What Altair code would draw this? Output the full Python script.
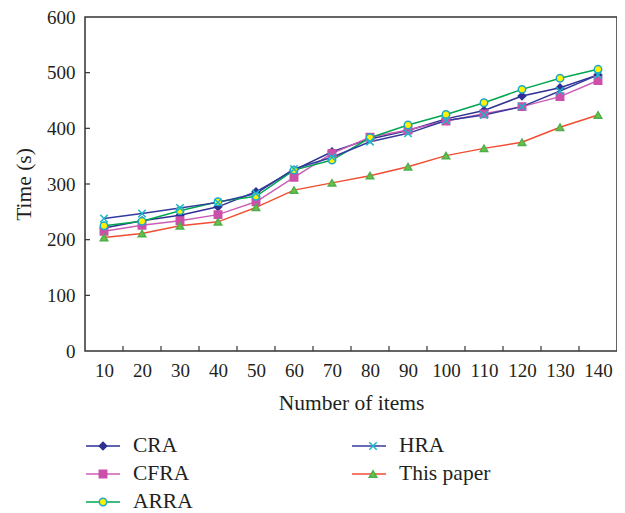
import altair as alt
import pandas as pd

# ---- data ----
items = [10, 20, 30, 40, 50, 60, 70, 80, 90, 100, 110, 120, 130, 140]
cra = [221, 234, 244, 259, 286, 325, 358, 381, 396, 417, 432, 458, 473, 496]
cfra = [215, 226, 234, 245, 268, 312, 355, 384, 397, 413, 426, 439, 457, 486]
arra = [225, 233, 252, 268, 278, 325, 343, 383, 406, 425, 446, 470, 490, 506]
hra = [238, 247, 257, 267, 283, 327, 348, 376, 391, 414, 424, 439, 467, 496]
this_paper = [204, 211, 225, 232, 258, 289, 302, 315, 331, 351, 364, 375, 402, 424]

series_values = {
    "CRA": cra,
    "CFRA": cfra,
    "ARRA": arra,
    "HRA": hra,
    "This paper": this_paper,
}
y_tick_values = [0, 100, 200, 300, 400, 500, 600]
inner_y_ticks = [100, 200, 300, 400, 500]
inner_x_ticks = [15, 25, 35, 45, 55, 65, 75, 85, 95, 105, 115, 125, 135]

# legend order (column-major, 2 columns)
order = ["CRA", "CFRA", "ARRA", "HRA", "This paper"]
line_colors = ["#2E3192", "#CC5DB5", "#00A651", "#333C9E", "#F04E30"]
marker_shapes = ["diamond", "square", "circle", "M-1,-1L1,1M-1,1L1,-1", "triangle-up"]
marker_fills = ["#2E3192", "#CC4FAA", "#FFF200", "#1CB5C9", "#6CC04A"]
marker_strokes = ["#2E3192", "#CC4FAA", "#1CA9C9", "#1CB5C9", "#4DAF4A"]

PREFIX = "m:"
rows = []
for name, vals in series_values.items():
    for x, v in zip(items, vals):
        rows.append({"items": x, "time": v, "series": name, "sm": PREFIX + name})
df = pd.DataFrame(rows)

FONT = "Liberation Serif"
TXT = "#231F20"
W, H = 532, 334
XD = [5, 145]
YD = [0, 600]
LFS = 21.5  # legend / title font size

common_leg = dict(
    title=None, orient="none", legendX=0, legendY=418, columns=2,
    rowPadding=6, clipHeight=22, padding=0,
    labelFont=FONT, labelFontSize=LFS, labelColor=TXT,
)
line_leg = alt.Legend(symbolType="stroke", symbolSize=1156, symbolStrokeWidth=1.5,
                      labelOffset=12, columnPadding=158, **common_leg)
mk_leg = alt.Legend(symbolSize=55, symbolStrokeWidth=1.5, labelOffset=26.5,
                    symbolOffset=7.25, labelExpr="''", columnPadding=214,
                    **common_leg)

xs = alt.Scale(domain=XD, nice=False, zero=False)
ys = alt.Scale(domain=YD, nice=False)

x_enc = alt.X("items:Q", scale=xs,
              axis=alt.Axis(values=items, ticks=False, tickSize=0, domain=False, grid=False,
                            labelFont=FONT, labelFontSize=19, labelColor=TXT, labelPadding=10,
                            title="Number of items", titleFont=FONT, titleFontSize=LFS,
                            titleFontWeight="normal", titleColor=TXT, titlePadding=12))
y_enc = alt.Y("time:Q", scale=ys,
              axis=alt.Axis(values=y_tick_values, ticks=False, tickSize=0, domain=False, grid=False,
                            labelFont=FONT, labelFontSize=19, labelColor=TXT, labelPadding=10,
                            title="Time (s)", titleFont=FONT, titleFontSize=LFS,
                            titleFontWeight="normal", titleColor=TXT, titlePadding=11))

lines = alt.Chart(df).mark_line(strokeWidth=1.5).encode(
    x=x_enc, y=y_enc,
    color=alt.Color("series:N", scale=alt.Scale(domain=order, range=line_colors), legend=line_leg),
)

mk_domain = [PREFIX + n for n in order]
points = alt.Chart(df).mark_point(size=55, strokeWidth=1.5, opacity=1).encode(
    x=alt.X("items:Q", scale=xs),
    y=alt.Y("time:Q", scale=ys),
    shape=alt.Shape("sm:N", scale=alt.Scale(domain=mk_domain, range=marker_shapes), legend=mk_leg),
    fill=alt.Fill("sm:N", scale=alt.Scale(domain=mk_domain, range=marker_fills), legend=mk_leg),
    stroke=alt.Stroke("sm:N", scale=alt.Scale(domain=mk_domain, range=marker_strokes), legend=mk_leg),
)

yt = alt.Chart(pd.DataFrame({"t": inner_y_ticks})).mark_rule(color="#333333", strokeWidth=1.2).encode(
    y=alt.Y("t:Q", scale=ys), x=alt.value(0), x2=alt.value(5)
)
xt = alt.Chart(pd.DataFrame({"t": inner_x_ticks})).mark_rule(color="#333333", strokeWidth=1.2).encode(
    x=alt.X("t:Q", scale=xs), y=alt.value(H), y2=alt.value(H - 5)
)

chart = alt.layer(lines, points, yt, xt).properties(
    width=W, height=H,
    padding={"left": 77, "top": 9, "right": 0, "bottom": 162},
    autosize=alt.AutoSizeParams(type="none"),
    background="white",
).configure_view(stroke="#333333", strokeWidth=1.5)

chart.save("out.html", embed_options={"renderer": "svg", "actions": False})
